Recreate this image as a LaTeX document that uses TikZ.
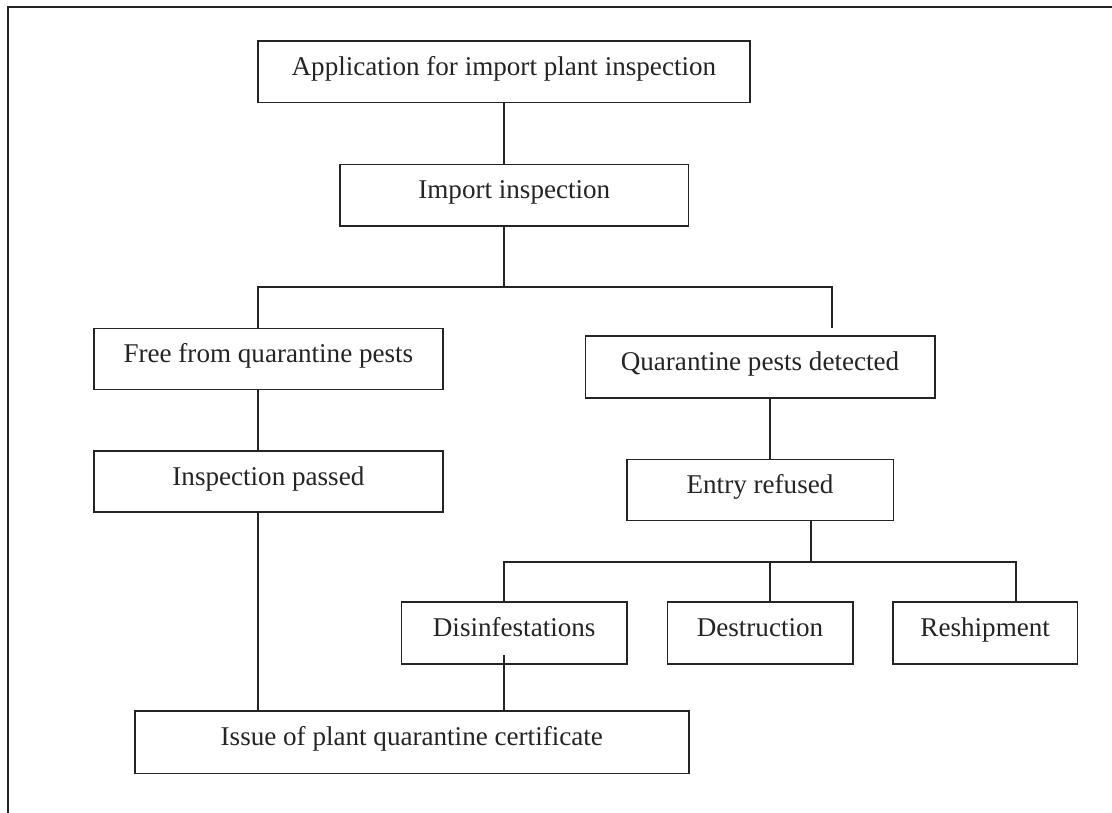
\documentclass[tikz,border=0pt]{standalone}
\usepackage{fontspec}
\setmainfont{Liberation Serif}
\definecolor{ink}{HTML}{262324}
\begin{document}
\begin{tikzpicture}[x=1pt,y=-1pt,
  conn/.style={line width=1.6pt, draw=ink},
  box/.style={draw=ink, line width=1.6pt, rectangle, inner sep=0pt,
    text height=18pt, text depth=10.6pt, text=ink,
    font=\fontsize{27.1}{32}\selectfont},
]
\useasboundingbox (0,0) rectangle (1112,812);
\begin{scope}
  \clip (0,0) rectangle (1112,812);
  \draw[conn] (8,1000) -- (8,7) -- (1200,7);
\end{scope}

\node[box, minimum width=492.3pt, minimum height=61.4pt] (app) at (503.9,71.9) {Application for import plant inspection};
\node[box, minimum width=348.7pt, minimum height=61.4pt] (imp) at (514.3,195) {Import inspection};
\node[box, minimum width=348.7pt, minimum height=61pt] (free) at (268.4,358.8) {Free from quarantine pests};
\node[box, minimum width=348.7pt, minimum height=61pt] (pass) at (268.4,481.5) {Inspection passed};
\node[box, minimum width=349.4pt, minimum height=61.7pt] (qpd) at (760,366.9) {Quarantine pests detected};
\node[box, minimum width=266.6pt, minimum height=61pt] (ent) at (760,489.8) {Entry refused};
\node[box, minimum width=225.7pt, minimum height=62pt] (dis) at (514.2,633) {Disinfestations};
\node[box, minimum width=185.4pt, minimum height=62pt] (dest) at (760,633) {Destruction};
\node[box, minimum width=184.3pt, minimum height=62pt] (resh) at (985.2,633) {Reshipment};
\node[box, minimum width=554.1pt, minimum height=62.3pt] (cert) at (411.8,742.2) {Issue of plant quarantine certificate};

\coordinate (jA) at (504,287);
\coordinate (jL) at (258,287);
\coordinate (jR) at (832,287);
\coordinate (rEnd) at (832,328);
\coordinate (xQ) at (770,0);
\coordinate (jE) at (811,562);
\coordinate (jD) at (504,562);
\coordinate (jT) at (770,562);
\coordinate (jS) at (1016,562);
\coordinate (dIn) at (504,655);

\draw[conn] (app.south) -- (app.south |- imp.north);
\draw[conn] (jA |- imp.south) -- (jA);
\draw[conn] (free.north -| jL) -- (jL) -- (jR) -- (rEnd);
\draw[conn] (free.south -| jL) -- (pass.north -| jL);
\draw[conn] (pass.south -| jL) -- (cert.north -| jL);
\draw[conn] (qpd.south -| xQ) -- (ent.north -| xQ);
\draw[conn] (ent.south -| jE) -- (jE);
\draw[conn] (dis.north -| jD) -- (jD) -- (jS) -- (resh.north -| jS);
\draw[conn] (jT) -- (dest.north -| jT);
\draw[conn] (dIn) -- (cert.north -| dIn);
\end{tikzpicture}
\end{document}
